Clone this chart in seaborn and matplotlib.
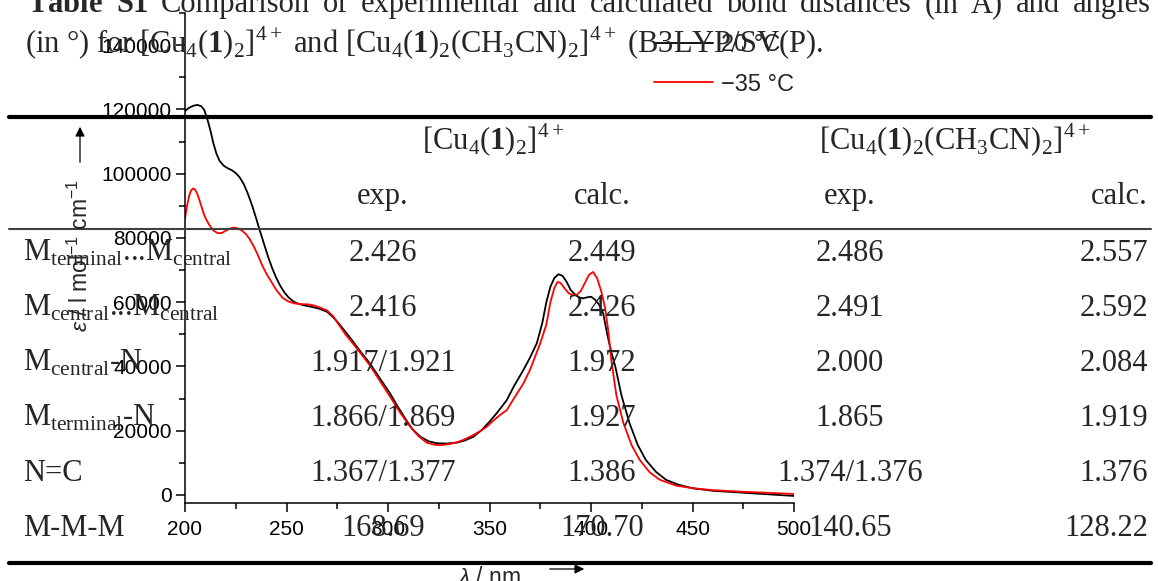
import numpy as np
import pandas as pd
import matplotlib
matplotlib.use("Agg")
import matplotlib.pyplot as plt
import seaborn as sns
from matplotlib.ticker import MultipleLocator, StrMethodFormatter
from matplotlib.lines import Line2D

# ---------------- data ----------------
wl_20 = [200, 202, 204, 206, 208, 209.5, 211, 212.5, 214, 215.5, 217, 219, 221, 223, 225, 227, 229,
         231, 233, 235, 237, 239, 241, 243, 245, 247, 249, 251, 253, 255, 258, 262, 266, 270, 273,
         276, 279, 282, 286, 291, 296, 301, 305, 309, 312, 316, 320, 324, 329, 334, 338, 342, 346,
         350, 354, 358.5, 362, 366.7, 370, 373.3, 376, 378, 380, 382, 384, 386, 388, 390, 392, 394,
         396, 398, 400, 402, 404, 406, 408, 410, 412, 415, 419, 423, 427, 432, 437, 443, 450, 460,
         475, 490, 500]
eps_20 = [119500, 120500, 121100, 121400, 121000, 119800, 117000, 113500, 109400, 106200, 104000,
          102500, 101700, 101100, 100200, 98800, 96700, 93700, 90200, 86200, 82000, 78000, 74000,
          70500, 67500, 65000, 63000, 61500, 60400, 59700, 59100, 58600, 58000, 57000, 55300, 53200,
          50800, 48400, 45000, 41000, 36300, 31600, 27300, 23300, 20500, 18100, 16700, 16100, 16000,
          16300, 17000, 18100, 20100, 22800, 25800, 29500, 33800, 38900, 42800, 47200, 53500, 60000,
          64800, 67600, 68700, 68200, 66300, 63800, 62500, 61500, 61200, 61500, 61700, 60800, 59200,
          56500, 50000, 44500, 39900, 31000, 22300, 15600, 10900, 7200, 4700, 3200, 2100, 1300, 700,
          100, -300]

wl_m35 = [200, 201, 202, 203, 204, 205, 206, 207, 208, 209, 210, 212, 214, 216, 218, 220, 222, 224,
          226, 228, 230, 232, 234, 236, 238, 240, 242, 245, 248, 251, 254, 257, 261, 264, 267, 270,
          273, 276, 279, 282, 286, 291, 296, 301, 306, 311, 315, 319, 323, 326, 330, 334, 337, 341,
          345, 348.6, 352, 355, 358.5, 362, 366.7, 370, 375, 378, 380, 382, 383.5, 385, 387, 389,
          391, 393, 395, 397, 399, 401, 403, 405, 407, 408.5, 410, 412.5, 416, 420, 424, 429, 434,
          442, 450, 460, 475, 490, 500]
eps_m35 = [86000, 90000, 93000, 94800, 95400, 95000, 93800, 92000, 90000, 88000, 86300, 84000,
           82300, 81500, 81500, 82200, 82900, 83200, 83000, 82300, 81200, 79500, 77200, 74500,
           71500, 69000, 66900, 63800, 61400, 60200, 59600, 59400, 59300, 58900, 58200, 57400,
           55600, 52800, 50000, 47700, 44500, 40400, 35500, 30600, 25600, 21200, 18300, 16300,
           15600, 15500, 15800, 16400, 17100, 18300, 19700, 21200, 23200, 24800, 26400, 30000,
           34700, 39000, 47200, 53000, 60000, 64500, 66300, 66000, 64300, 62800, 62200, 62300,
           63500, 66000, 68500, 69400, 67500, 63500, 58000, 51000, 42000, 31000, 22300, 15500,
           10900, 7000, 4700, 2900, 2100, 1500, 1000, 600, 300]

series_labels = ["20 \u00b0C", "\u221235 \u00b0C"]
series_colors = ["black", "#ff0000"]

title_words1 = [r"$\mathbf{Table}$", r"$\mathbf{S1}$", "Comparison", "of", "experimental", "and",
                "calculated", "bond", "distances", "(in", "Å)", "and", "angles"]
title_line2 = (r"(in °) for [Cu$_{4}$($\mathbf{1}$)$_{2}$]$^{4+}$ and "
               r"[Cu$_{4}$($\mathbf{1}$)$_{2}$(CH$_{3}$CN)$_{2}$]$^{4+}$ (B3LYP/SV(P).")
group_headers = [r"[Cu$_{4}$($\mathbf{1}$)$_{2}$]$^{4+}$",
                 r"[Cu$_{4}$($\mathbf{1}$)$_{2}$(CH$_{3}$CN)$_{2}$]$^{4+}$"]
sub_headers = ["exp.", "calc.", "exp.", "calc."]
row_labels = [r"M$_{\rm terminal}$...M$_{\rm central}$",
              r"M$_{\rm central}$...M$_{\rm central}$",
              r"M$_{\rm central}$-N",
              r"M$_{\rm terminal}$-N",
              "N=C",
              "M-M-M"]
col_exp1 = ["2.426", "2.416", "1.917/1.921", "1.866/1.869", "1.367/1.377", "168.69"]
col_calc1 = ["2.449", "2.426", "1.972", "1.927", "1.386", "170.70"]
col_exp2 = ["2.486", "2.491", "2.000", "1.865", "1.374/1.376", "140.65"]
col_calc2 = ["2.557", "2.592", "2.084", "1.919", "1.376", "128.22"]

# ---------------- style ----------------
sns.set_theme(style="ticks")
plt.rcParams['font.family'] = ['Liberation Sans', 'DejaVu Sans']
plt.rcParams['mathtext.fontset'] = 'custom'
plt.rcParams['mathtext.rm'] = 'Liberation Serif'
plt.rcParams['mathtext.bf'] = 'Liberation Serif:bold'
plt.rcParams['mathtext.it'] = 'Liberation Sans:italic'
plt.rcParams['mathtext.sf'] = 'Liberation Sans'

W, H = 1158, 581
fig = plt.figure(figsize=(W / 100, H / 100), dpi=100)
fig.patch.set_facecolor("white")


def fx(px):
    return px / W


def fy(py):
    return 1 - py / H


SERIF = ['Liberation Serif', 'DejaVu Serif']
TFS = 22

# ---------------- table ----------------
# justified first title line
renderer = fig.canvas.get_renderer()
word_texts = [fig.text(0, fy(12), w, fontsize=TFS, family=SERIF, va='baseline', ha='left')
              for w in title_words1]
widths = [t.get_window_extent(renderer=renderer).width for t in word_texts]
x_left, x_right = 27, 1151
gap = (x_right - x_left - sum(widths)) / (len(widths) - 1)
xpos = x_left
for t, wd in zip(word_texts, widths):
    t.set_x(fx(xpos))
    xpos += wd + gap

fig.text(fx(25), fy(53), title_line2, fontsize=TFS, family=SERIF, va='baseline', ha='left')

for y, lw, c in [(117, 3.0, 'black'), (229, 1.5, '#404040'), (563, 3.0, 'black')]:
    fig.add_artist(Line2D([fx(9), fx(1151)], [fy(y), fy(y)], lw=lw, color=c,
                          transform=fig.transFigure))

group_x = [493, 955]
for gx, txt in zip(group_x, group_headers):
    fig.text(fx(gx), fy(150), txt, fontsize=TFS, family=SERIF, va='baseline', ha='center')

for cx, txt, ha in zip([383, 602, 850, 1148], sub_headers, ['center', 'center', 'center', 'right']):
    fig.text(fx(cx), fy(204), txt, fontsize=TFS, family=SERIF, va='baseline', ha=ha)

row_y = [261, 316, 371, 426, 481, 536]
for i, ry in enumerate(row_y):
    fig.text(fx(23), fy(ry), row_labels[i], fontsize=TFS, family=SERIF, va='baseline', ha='left')
    for cx, col, ha in zip([383, 602, 850, 1148], [col_exp1, col_calc1, col_exp2, col_calc2],
                           ['center', 'center', 'center', 'right']):
        fig.text(fx(cx), fy(ry), col[i], fontsize=TFS, family=SERIF, va='baseline', ha=ha)

# ---------------- chart ----------------
ax = fig.add_axes([fx(185), fy(503), fx(794) - fx(185), fy(13) - fy(503)])
ax.patch.set_alpha(0)

df = pd.DataFrame({
    "wl": wl_20 + wl_m35,
    "eps": eps_20 + eps_m35,
    "T": [series_labels[0]] * len(wl_20) + [series_labels[1]] * len(wl_m35),
})
sns.lineplot(data=df, x="wl", y="eps", hue="T", palette=dict(zip(series_labels, series_colors)),
             estimator=None, sort=False, lw=1.3, ax=ax)

ax.set_xlim(200, 500)
ax.set_ylim(-2500, 150000)
ax.xaxis.set_major_locator(MultipleLocator(50))
ax.xaxis.set_minor_locator(MultipleLocator(25))
ax.yaxis.set_major_locator(MultipleLocator(20000))
ax.yaxis.set_minor_locator(MultipleLocator(10000))
ax.yaxis.set_major_formatter(StrMethodFormatter("{x:.0f}"))
ax.set_xlabel("")
ax.set_ylabel("")
for s in ["top", "right"]:
    ax.spines[s].set_visible(False)
for s in ["left", "bottom"]:
    ax.spines[s].set_linewidth(1.1)
    ax.spines[s].set_color("black")
ax.tick_params(which='major', direction='out', length=6.5, width=1.1, color='black',
               labelsize=15, labelcolor='black')
ax.tick_params(axis='x', which='major', pad=5.5)
ax.tick_params(axis='y', which='major', pad=3)
ax.tick_params(which='minor', direction='out', length=4.2, width=1.1, color='black')

ax.legend(loc='upper left', bbox_to_anchor=(fx(654), fy(34)), bbox_transform=fig.transFigure,
          frameon=False, fontsize=17, handlelength=2.5, handletextpad=0.35, labelspacing=0.75,
          borderpad=0, borderaxespad=0)

# axis labels with arrows
fig.text(fx(80), fy(255), r"$ε$ / l mol$^{\mathsf{-1}}$ cm$^{\mathsf{-1}}$", rotation=90,
         ha='center', va='center', fontsize=16.5)
ax.annotate('', xy=(80, H - 124), xytext=(80, H - 165), xycoords='figure pixels',
            textcoords='figure pixels',
            arrowprops=dict(arrowstyle='-|>', color='black', lw=0.9, mutation_scale=14))
fig.text(fx(489), fy(577), r"$λ$ / nm", ha='center', va='center', fontsize=16.5)
ax.annotate('', xy=(587, H - 569), xytext=(547, H - 569), xycoords='figure pixels',
            textcoords='figure pixels',
            arrowprops=dict(arrowstyle='-|>', color='black', lw=0.9, mutation_scale=14))

fig.savefig("out.png", dpi=100, facecolor="white")
